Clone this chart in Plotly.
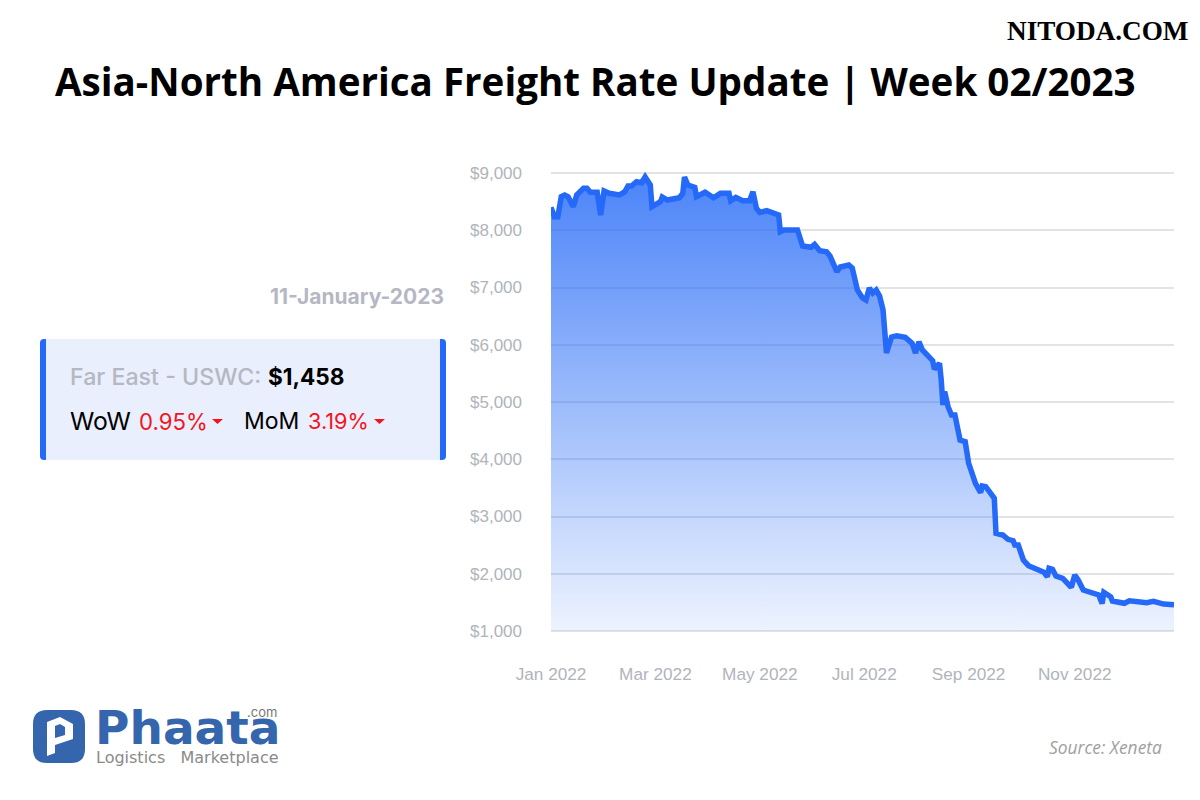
import pandas as pd
import plotly.graph_objects as go

START = "2022-01-01"
days = [0,2,4,6,8,10,13,15,19,21,23,27,29,31,34,40,43,45,47,50,53,55,58,59,64,65,68,75,77,78,80,84,85,90,95,99,
        104,105,108,112,116,118,120,122,126,130,133,134,136,144,145,147,152,154,157,161,163,167,169,174,176,179,
        182,184,186,188,190,192,194,196,199,202,207,211,213,215,217,220,223,224,227,228,229,230,232,234,236,239,
        242,244,248,251,252,254,257,259,260,264,267,270,271,273,276,279,288,290,291,293,295,299,304,306,308,311,
        320,322,323,327,328,335,338,341,344,348,352,358,364]
rates = [8400,8237,8237,8586,8615,8586,8411,8616,8733,8733,8663,8663,8266,8685,8645,8616,8668,8773,8773,8848,8830,8930,8790,8411,8499,8581,8528,8568,8645,8930,8790,8750,8586,8663,8568,8645,
         8645,8516,8575,8516,8516,8673,8383,8313,8341,8284,8266,7975,8004,8004,7917,7725,7702,7754,7643,7625,7550,7276,7358,7393,7341,6956,
         6817,6782,6991,6904,6956,6851,6607,5856,6135,6158,6130,6025,5856,6053,5908,5821,5721,5571,5676,5384,4948,5180,4918,4773,4773,4336,
         4307,3934,3580,3416,3533,3520,3405,3318,2707,2677,2602,2577,2502,2502,2240,2141,2025,1948,2095,2078,1961,1920,1763,1978,1891,1716,
         1629,1480,1676,1599,1524,1484,1529,1519,1494,1494,1519,1470,1458]
y_ticks = [1000,2000,3000,4000,5000,6000,7000,8000,9000]
y_tick_labels = ["$1,000","$2,000","$3,000","$4,000","$5,000","$6,000","$7,000","$8,000","$9,000"]
x_tick_dates = ["2022-01-01","2022-03-03","2022-05-03","2022-07-03","2022-09-02","2022-11-03"]
x_tick_labels = ["Jan 2022","Mar 2022","May 2022","Jul 2022","Sep 2022","Nov 2022"]

dates = pd.Timestamp(START) + pd.to_timedelta(days, unit="D")
W, H = 1200, 800
px = lambda v: v / W
py = lambda v: 1 - v / H

fig = go.Figure()
fig.add_trace(go.Scatter(x=dates, y=[y_ticks[0]] * len(days), mode="lines", line=dict(width=0),
                         hoverinfo="skip", showlegend=False))
fig.add_trace(go.Scatter(
    x=dates, y=rates, mode="lines", line=dict(color="#2469f7", width=5.5),
    fill="tonexty", fillcolor="rgba(36,105,247,0.5)",
    fillgradient=dict(type="vertical", colorscale=[[0, "rgba(36,105,247,0.08)"], [1, "rgba(36,105,247,0.82)"]]),
    hoverinfo="x+y", showlegend=False))

def txt(x, y, s, size, color, family, anchor="left", weight=None, italic=False):
    fig.add_annotation(xref="paper", yref="paper", x=px(x), y=py(y), text=s, showarrow=False,
                       xanchor=anchor, yanchor="middle", borderpad=0,
                       font=dict(size=size, color=color, family=family, weight=weight or 400,
                                 style="italic" if italic else "normal"))

def rpath(x0, y0, x1, y1, r):
    return (f"M{px(x0+r)},{py(y0)} L{px(x1-r)},{py(y0)} Q{px(x1)},{py(y0)} {px(x1)},{py(y0+r)} "
            f"L{px(x1)},{py(y1-r)} Q{px(x1)},{py(y1)} {px(x1-r)},{py(y1)} "
            f"L{px(x0+r)},{py(y1)} Q{px(x0)},{py(y1)} {px(x0)},{py(y1-r)} "
            f"L{px(x0)},{py(y0+r)} Q{px(x0)},{py(y0)} {px(x0+r)},{py(y0)} Z")

def shape(path, color):
    fig.add_shape(type="path", xref="paper", yref="paper", path=path, fillcolor=color, line=dict(width=0))

# baseline of the value axis
fig.add_shape(type="line", xref="x domain", yref="y", x0=0, x1=1, y0=y_ticks[0], y1=y_ticks[0],
              line=dict(color="#d5d8e0", width=2), layer="below")

# info card
shape(rpath(40, 339, 446, 460, 4), "#2469f7")
fig.add_shape(type="rect", xref="paper", yref="paper", x0=px(46), x1=px(440), y0=py(339), y1=py(460),
              fillcolor="#e9effc", line=dict(width=0))
for x0 in (212, 374):
    shape(f"M{px(x0)},{py(419)} L{px(x0+11)},{py(419)} L{px(x0+5.5)},{py(424)} Z", "#f5141e")

# logo
shape(rpath(33, 710, 85, 763, 14), "#3566ad")
shape(f"M{px(47)},{py(722)} L{px(60)},{py(717)} L{px(73)},{py(724)} L{px(73)},{py(739)} L{px(55)},{py(745)} "
      f"L{px(55)},{py(753)} L{px(47)},{py(756)} Z", "white")
shape(f"M{px(55)},{py(726)} L{px(60)},{py(724)} L{px(65)},{py(727)} L{px(65)},{py(735)} L{px(55)},{py(738)} Z", "#3566ad")

txt(595, 81, "Asia-North America Freight Rate Update | Week 02/2023", 38.6, "#000000", "Open Sans", "center", 700)
txt(1097.5, 31, "NITODA.COM", 27.2, "#000000", "Liberation Serif", "center", 700)
txt(445, 296, "11-January-2023", 21, "#b5b7c3", "Inter", "right", 700)
txt(69, 377, "Far East - USWC:", 23.2, "#b5b7c3", "Inter", "left", 500)
txt(267, 377, "$1,458", 22.6, "#000000", "Inter", "left", 700)
txt(69, 421, "WoW", 24.7, "#000000", "Inter")
txt(138, 421, "0.95%", 22.2, "#f5141e", "Inter")
txt(243, 421, "MoM", 23, "#000000", "Inter")
txt(307, 421, "3.19%", 21.7, "#f5141e", "Inter")
txt(94, 727.5, "Phaata", 47, "#3566ad", "DejaVu Sans", "left", 700)
txt(278, 712, ".com", 13, "#777777", "Inter", "right")
txt(95, 757, "Logistics\u00a0\u00a0\u00a0Marketplace", 16, "#8a8a8a", "DejaVu Sans")
txt(1163, 747, "Source: Xeneta", 17.4, "#a0a0a0", "Open Sans", "right", 400, True)

fig.update_layout(
    width=W, height=H, margin=dict(l=0, r=0, t=0, b=0, autoexpand=False), paper_bgcolor="white", plot_bgcolor="white",
    xaxis=dict(domain=[px(551), px(1174)], range=[START, "2022-12-31"], tickvals=x_tick_dates, ticktext=x_tick_labels,
               automargin=False, showgrid=False, zeroline=False, showline=False, ticks="", ticklabelstandoff=29,
               tickfont=dict(family="Liberation Sans", size=17.2, color="#b0b4bb")),
    yaxis=dict(domain=[py(632.72), py(171.28)], range=[970, 9030], tickvals=y_ticks, ticktext=y_tick_labels,
               automargin=False, showgrid=True, gridcolor="#e3e3e6", gridwidth=2, zeroline=False, showline=False, ticks="",
               ticklabelstandoff=28, tickfont=dict(family="Liberation Sans", size=17, color="#b0b4bb")),
)
fig.write_html("out.html", post_script="document.body.style.margin='0';", config={"displayModeBar": False})
